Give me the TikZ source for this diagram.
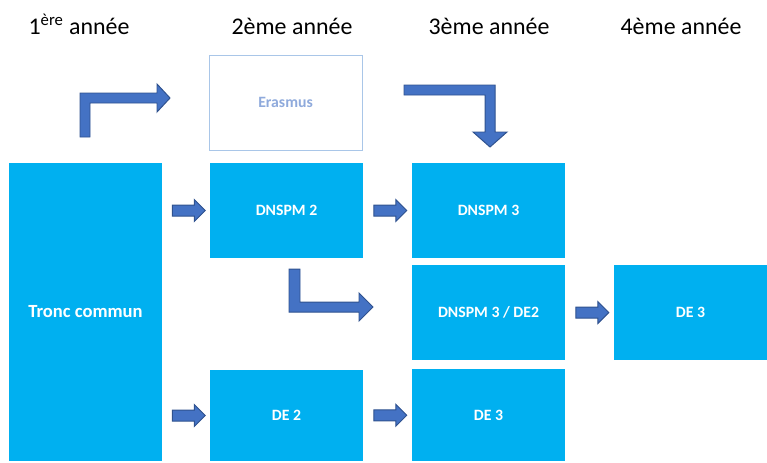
\documentclass[tikz,border=0pt]{standalone}
\usepackage{fontspec}
\setmainfont{Carlito}
\usepackage{tikz}
\usetikzlibrary{shapes.arrows,calc}
\definecolor{boxblue}{HTML}{00B0F0}
\definecolor{arrowblue}{HTML}{4472C4}
\definecolor{arrowedge}{HTML}{2F528F}
\definecolor{erasline}{HTML}{A9C6E8}
\definecolor{erastext}{HTML}{8FAADC}
\tikzstyle{year} = [anchor=base, font=\fontsize{17}{20}\selectfont]
\tikzstyle{box} = [anchor=north west, fill=boxblue, text=white, inner sep=0, outer sep=0,
    minimum width=3.825cm, minimum height=2.375cm, font=\bfseries\fontsize{11.2}{13}\selectfont]
\tikzstyle{barrow} = [single arrow, draw=arrowedge, fill=arrowblue, line width=0.7pt,
    inner sep=0.125cm, single arrow head extend=0.1375cm, minimum height=0.825cm]
\tikzstyle{bent} = [draw=arrowedge, fill=arrowblue, line width=0.7pt, line join=miter]

\begin{document}
\begin{tikzpicture}[x=0.025cm, y=-0.025cm]
    \useasboundingbox (0,0) rectangle (767,462);% page frame
    % years
    \node[year] (y1) at (79,34) {1\textsuperscript{ère} année};
    \node[year] (y2) at (292,34) {2ème année};
    \node[year] (y3) at (489,34) {3ème année};
    \node[year] (y4) at (681,34) {4ème année};
    % boxes
    \node[box, minimum height=7.45cm, font=\bfseries\fontsize{13.2}{15}\selectfont]
        (tronc) at (9,163) {Tronc commun};% first year
    \node[box, fill=white, draw=erasline, line width=0.7pt, text=erastext]
        (erasmus) at (209,55) {Erasmus};
    \node[box] (dnspm2) at (210,163) {DNSPM 2};
    \node[box, minimum height=2.275cm] (de2) at (210,370) {DE 2};
    \node[box] (dnspm3) at (412,163) {DNSPM 3};
    \node[box] (mixte) at (412,265) {DNSPM 3 / DE2};
    \node[box, minimum height=2.3cm] (de3) at (412,369) {DE 3};
    \node[box] (de4) at (614,265) {DE 3};
    % straight arrows
    \node[barrow] (a1) at ($(tronc.east |- dnspm2.center)!0.5!(dnspm2.west)$) {};
    \node[barrow] (a2) at ($(tronc.east |- de2.center)!0.5!(de2.west)$) {};
    \node[barrow] (a3) at ($(dnspm2.east)!0.5!(dnspm3.west)$) {};
    \node[barrow] (a4) at ($(de2.east)!0.5!(de3.west)$) {};
    \node[barrow] (a5) at ($(mixte.east)!0.5!(de4.west)$) {};
    % bent arrows
    \filldraw[bent] (80,137) -- (80,93) -- (157,93) -- (157,84) -- (170,98)
        -- (157,112) -- (157,103) -- (90,103) -- (90,137) -- cycle;% to Erasmus
    \filldraw[bent] (404,85) -- (495,85) -- (495,132) -- (507,132) -- (490,147)
        -- (473,132) -- (485,132) -- (485,95) -- (404,95) -- cycle;% back to DNSPM 3
    \filldraw[bent] (289,269) -- (300,269) -- (300,302) -- (359,302) -- (359,293)
        -- (373,307) -- (359,321) -- (359,312) -- (289,312) -- cycle;% to DNSPM 3 / DE2
\end{tikzpicture}
\end{document}
